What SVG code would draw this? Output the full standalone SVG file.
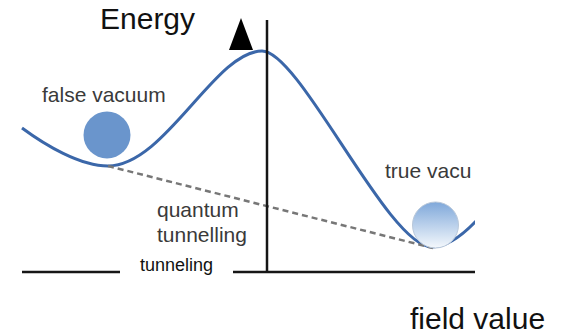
<svg xmlns="http://www.w3.org/2000/svg" width="568" height="336" viewBox="0 0 568 336">
<style>
.lbl{font-family:"Liberation Sans",Arial,sans-serif;fill:#3a3a3a}
.ax{stroke:#161616;stroke-width:2.5;fill:none}
.big{font-family:"Liberation Sans",Arial,sans-serif;font-size:30px;fill:#111}
</style>
<defs>
<clipPath id="clip"><rect x="0" y="0" width="475" height="336"/></clipPath>
<linearGradient id="tg" x1="0" y1="0" x2="0" y2="1">
<stop offset="0" stop-color="#7fa8da"/>
<stop offset="1" stop-color="#f4f8fc"/>
</linearGradient>
</defs>
<rect width="568" height="336" fill="#fff"/>
<g id="connectors" clip-path="url(#clip)">
<path id="potential" d="M22 128 C45 145 80 166 108 166 C165 166 215 51 262 51 C300 51 388 247 432 247 C450 247 470 230 490 205" fill="none" stroke="#3b67a9" stroke-width="3"/>
<line id="tunnel-path" x1="108" y1="166" x2="433" y2="248" stroke="#777" stroke-width="2.5" stroke-dasharray="6,4"/>
<line class="ax" x1="22" y1="272" x2="120" y2="272"/>
<line class="ax" x1="233" y1="272" x2="476" y2="272"/>
<line class="ax" x1="267" y1="20" x2="267" y2="273"/>
</g>
<g id="arrow"><polygon points="241,18 229,50 253,50" fill="#000"/></g>
<g id="energy-label"><text class="big" x="100" y="29">Energy</text></g>
<g id="field-label"><text class="big" x="410" y="329">field value</text></g>
<g id="false-vacuum">
<circle cx="107" cy="135" r="23.5" fill="#6a95cc"/>
<text class="lbl" x="42" y="102" font-size="21">false vacuum</text>
</g>
<g id="true-vacuum" clip-path="url(#clip)">
<circle cx="435.5" cy="225" r="23" fill="url(#tg)" stroke="#b9c8da" stroke-width="1"/>
<text class="lbl" x="385" y="178" font-size="21">true vacu</text>
</g>
<g id="quantum-label">
<text class="lbl" x="157" y="217" font-size="21">quantum</text>
<text class="lbl" x="157" y="242" font-size="21">tunnelling</text>
</g>
<g id="tunneling-label"><text x="140" y="271" font-family="Liberation Sans,Arial,sans-serif" font-size="18" fill="#111">tunneling</text></g>
</svg>
